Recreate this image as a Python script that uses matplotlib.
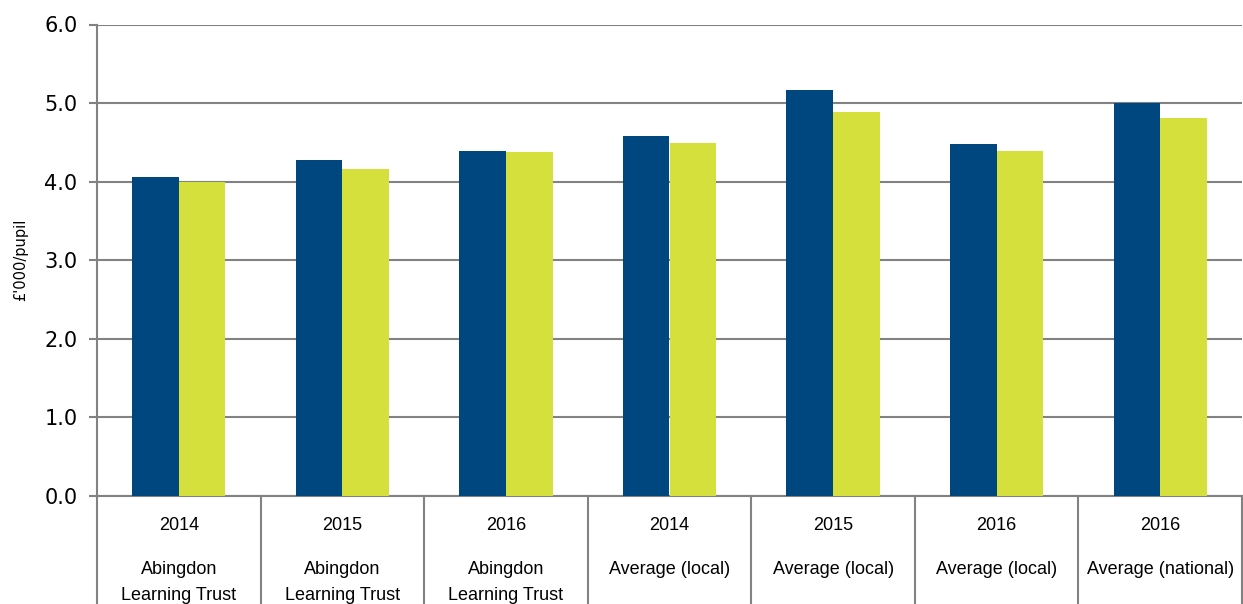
import matplotlib.pyplot as plt
import matplotlib.transforms as mtransforms
import numpy as np

years = ['2014', '2015', '2016', '2014', '2015', '2016', '2016']
groups = ['Abingdon\nLearning Trust', 'Abingdon\nLearning Trust', 'Abingdon\nLearning Trust',
          'Average (local)', 'Average (local)', 'Average (local)', 'Average (national)']
series_a = [4.06, 4.27, 4.39, 4.58, 5.17, 4.48, 5.00]
series_b = [4.00, 4.16, 4.38, 4.49, 4.89, 4.39, 4.81]
y_ticks = [0.0, 1.0, 2.0, 3.0, 4.0, 5.0, 6.0]

blue = '#00477f'
green = '#d6e03d'
grey = '#828282'

fig = plt.figure(figsize=(12.43, 6.04), dpi=100)
ax = fig.add_axes([97 / 1243, 1 - 496 / 604, 1145 / 1243, (496 - 24.5) / 604])

x = np.arange(len(years))
w = 0.285
ax.bar(x - w / 2, series_a, w, color=blue, zorder=3)
ax.bar(x + w / 2, series_b, w, color=green, zorder=3)

ax.set_xlim(-0.5, len(years) - 0.5)
ax.set_ylim(0, 6)
ax.set_yticks(y_ticks)
ax.set_yticklabels(['%.1f' % v for v in y_ticks], fontsize=15, family='DejaVu Sans')
ax.yaxis.grid(True, color=grey, linewidth=1.5, zorder=0)
ax.tick_params(axis='y', length=6, width=1.5, color=grey, pad=8)
ax.set_xticks([])

for s in ['top', 'right']:
    ax.spines[s].set_visible(False)
for s in ['left', 'bottom']:
    ax.spines[s].set_color(grey)
    ax.spines[s].set_linewidth(1.5)

ax.set_ylabel("£'000/pupil", fontsize=10.5, family='DejaVu Sans', labelpad=12)

trans = mtransforms.blended_transform_factory(ax.transData, ax.transAxes)
for i in range(len(years) + 1):
    ax.plot([i - 0.5, i - 0.5], [0, -0.25], transform=trans, color=grey,
            linewidth=1.5, clip_on=False)

for i, (yr, g) in enumerate(zip(years, groups)):
    ax.text(i, -0.0625, yr, transform=trans, ha='center', va='center',
            fontsize=13, family='Liberation Sans')
    for j, line in enumerate(g.split('\n')):
        ax.text(i, -0.155 - j * 0.056, line, transform=trans, ha='center', va='center',
                fontsize=13, family='Liberation Sans')

fig.savefig('out.png', dpi=100)
